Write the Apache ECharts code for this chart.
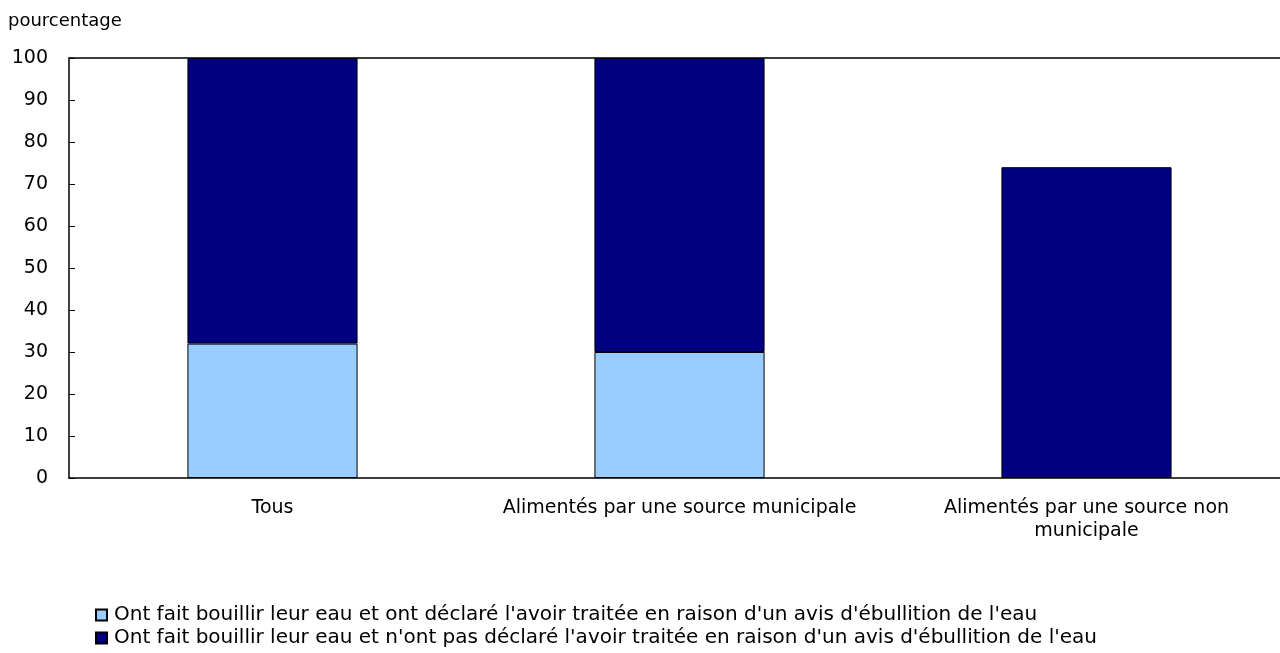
<!DOCTYPE html>
<html>
<head>
<meta charset="utf-8">
<script src="https://cdn.jsdelivr.net/npm/echarts@6/dist/echarts.min.js"></script>
<style>
  html, body { margin: 0; padding: 0; background: #fff; }
  #chart { width: 1280px; height: 653px; }
</style>
</head>
<body>
<div id="chart"></div>
<script>
let categories = ['Tous', 'Alimentés par une source municipale', 'Alimentés par une source non\nmunicipale'];
let seriesNames = [
    "Ont fait bouillir leur eau et ont déclaré l'avoir traitée en raison d'un avis d'ébullition de l'eau",
    "Ont fait bouillir leur eau et n'ont pas déclaré l'avoir traitée en raison d'un avis d'ébullition de l'eau"
];
let declared = [32, 30, '-'];
let notDeclared = [68, 70, 74];
let yTicks = [0, 10, 20, 30, 40, 50, 60, 70, 80, 90, 100];

let font = 'Verdana, "DejaVu Sans", sans-serif';
let chart = echarts.init(document.getElementById('chart'));

let option = {
    backgroundColor: '#fff',
    animation: false,
    textStyle: { fontFamily: font, color: '#000' },
    graphic: [{
        type: 'text',
        left: 8,
        top: 12,
        style: { text: 'pourcentage', font: '18px ' + font, fill: '#000' }
    }],
    // the plot runs a little past the right edge in the reference
    grid: { left: 69, width: 1221, top: 58, bottom: 175, outerBoundsMode: 'none', containLabel: false },
    legend: {
        orient: 'vertical',
        left: 95,
        top: 605,
        height: 50,
        padding: 0,
        itemWidth: 11,
        itemHeight: 11,
        itemGap: 3,
        icon: 'rect',
        textStyle: { fontSize: 20, fontFamily: font, color: '#000', padding: [0, 0, 0, 2] },
        data: seriesNames
    },
    xAxis: [
        {
            type: 'category',
            data: categories,
            axisLine: { lineStyle: { color: '#000', width: 1.5 } },
            axisTick: { show: false },
            axisLabel: { fontSize: 19, color: '#000', margin: 19, interval: 0, lineHeight: 23 }
        },
        {
            type: 'category',
            position: 'top',
            data: categories,
            axisLine: { lineStyle: { color: '#000', width: 1.5 } },
            axisTick: { show: false },
            axisLabel: { show: false }
        }
    ],
    yAxis: {
        type: 'value',
        min: yTicks[0],
        max: yTicks[yTicks.length - 1],
        interval: 10,
        axisLine: { show: true, lineStyle: { color: '#000', width: 1.5 } },
        axisTick: { show: true, inside: true, length: 6, lineStyle: { color: '#000' } },
        splitLine: { show: false },
        axisLabel: { fontSize: 19, color: '#000', margin: 21 }
    },
    series: [
        {
            name: seriesNames[0],
            type: 'bar',
            stack: 'total',
            barWidth: '41.8%',
            data: declared,
            itemStyle: { color: '#99CCFF', borderColor: '#000', borderWidth: 1 }
        },
        {
            name: seriesNames[1],
            type: 'bar',
            stack: 'total',
            barWidth: '41.8%',
            data: notDeclared,
            itemStyle: { color: '#000080', borderColor: '#000', borderWidth: 1 }
        }
    ]
};

option && chart.setOption(option);
</script>
</body>
</html>
